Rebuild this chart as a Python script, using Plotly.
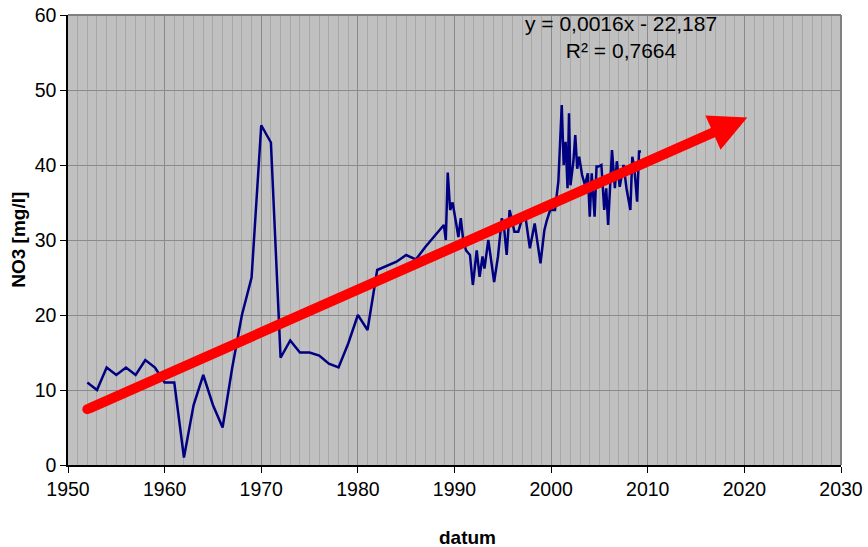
import plotly.graph_objects as go

# Measurement dates (decimal years) and NO3 concentrations [mg/l]
datum = [1952, 1953, 1954, 1955, 1956, 1957, 1958, 1959, 1960, 1961,
         1962, 1963, 1964, 1965, 1966, 1967, 1968, 1969, 1970, 1971,
         1972, 1973, 1974, 1975, 1976, 1977, 1978, 1979, 1980, 1981,
         1982, 1983, 1984, 1985, 1986, 1987, 1988, 1988.9, 1989.1, 1989.3,
         1989.55, 1989.8, 1990.2, 1990.4, 1990.65, 1990.9, 1991.2, 1991.6, 1991.9, 1992.3,
         1992.6, 1992.9, 1993.1, 1993.5, 1994.1, 1994.5, 1994.9, 1995.1, 1995.4, 1995.7,
         1995.9, 1996.2, 1996.6, 1997.1, 1997.3, 1997.8, 1998.3, 1998.9, 1999.3, 1999.55,
         1999.9, 2000.4, 2000.75, 2001.1, 2001.3, 2001.5, 2001.7, 2001.85, 2002.0, 2002.3,
         2002.5, 2002.7, 2002.9, 2003.2, 2003.5, 2003.8, 2004.0, 2004.2, 2004.5, 2004.7,
         2004.9, 2005.2, 2005.5, 2005.7, 2005.9, 2006.3, 2006.6, 2006.8, 2007.1, 2007.5,
         2007.8, 2008.2, 2008.4, 2008.6, 2008.9, 2009.1, 2009.3]
no3 = [11, 10, 13, 12, 13, 12, 14, 13, 11, 11,
       1, 8, 12, 8, 5, 13, 20, 25, 45.3, 43,
       14.3, 16.6, 15, 15, 14.6, 13.5, 13, 16.2, 20, 18,
       26, 26.5, 27.1, 28, 27.4, 29.1, 30.6, 32, 30, 39,
       34, 35, 32, 30.4, 32.9, 30, 28.6, 28, 24, 28.6,
       25.1, 27.8, 26.2, 30, 24.4, 27.8, 32.9, 32, 28, 34,
       32.9, 31.1, 31.1, 33.3, 33.5, 28.9, 32.2, 26.9, 31.3, 32.6,
       34, 34, 37.8, 48, 40, 43.1, 36.9, 46.9, 37.3, 40.4,
       44, 39.5, 41.1, 38.7, 37.3, 38.9, 33.1, 38.9, 33.1, 39.8,
       39.8, 40, 34, 36.9, 32, 42, 36.9, 40.5, 37.1, 40,
       36.9, 34, 41.1, 39.8, 35.1, 41.8, 41.8]

# Hand-drawn trend arrow (start and tip)
arrow_x = [1952, 2020.3]
arrow_y = [7.43, 46.35]

equation = "y = 0,0016x - 22,187<br>R² = 0,7664"
x_ticks = [1950, 1960, 1970, 1980, 1990, 2000, 2010, 2020, 2030]
y_ticks = [0, 10, 20, 30, 40, 50, 60]

FONT = "Liberation Sans, Arial, sans-serif"

fig = go.Figure()
fig.add_trace(go.Scatter(x=datum, y=no3, mode="lines",
                         line=dict(color="#000080", width=2.5),
                         showlegend=False, hoverinfo="x+y"))
# round cap at arrow start
fig.add_trace(go.Scatter(x=[arrow_x[0]], y=[arrow_y[0]], mode="markers",
                         marker=dict(color="#ff0000", size=10, line=dict(width=0)),
                         showlegend=False, hoverinfo="skip"))

fig.add_annotation(x=arrow_x[1], y=arrow_y[1], ax=arrow_x[0], ay=arrow_y[0],
                   xref="x", yref="y", axref="x", ayref="y",
                   showarrow=True, arrowhead=2, arrowsize=0.75, arrowwidth=10,
                   arrowcolor="#ff0000", standoff=0, text="")

fig.add_annotation(x=2007.25, y=57.1, xref="x", yref="y", text=equation,
                   showarrow=False, xanchor="center", yanchor="middle",
                   font=dict(family=FONT, size=21, color="#000000"))

# axis titles
fig.add_annotation(x=1991.35, y=-0.16, xref="x", yref="paper", text="<b>datum</b>",
                   showarrow=False, xanchor="center", yanchor="middle",
                   font=dict(family=FONT, size=19, color="#000"))
fig.add_annotation(x=-0.065, y=0.5, xref="paper", yref="paper", text="<b>NO3 [mg/l]</b>",
                   showarrow=False, textangle=-90, xanchor="center", yanchor="middle",
                   font=dict(family=FONT, size=19, color="#000"))

# gray frame on top/right
fig.add_shape(type="line", xref="paper", yref="paper", x0=0, x1=1, y0=1, y1=1,
              line=dict(color="#808080", width=2), layer="above")
fig.add_shape(type="line", xref="paper", yref="paper", x0=1, x1=1, y0=0, y1=1,
              line=dict(color="#808080", width=2), layer="above")

fig.update_layout(
    width=868, height=547,
    margin=dict(l=68, r=27, t=15, b=82, autoexpand=False),
    paper_bgcolor="white", plot_bgcolor="#c0c0c0",
    font=dict(family=FONT, size=19, color="#000"),
    showlegend=False,
    xaxis=dict(range=[1950, 2030], tickvals=x_ticks, ticks="outside", ticklen=6,
               tickcolor="#000", showline=True, linecolor="#000", linewidth=1.5,
               showgrid=True, gridcolor="#8a8a8a", gridwidth=1, zeroline=False,
               automargin=False,
               minor=dict(dtick=1, showgrid=True, gridcolor="#a8a8a8", gridwidth=1, ticks=""),
               tickfont=dict(family=FONT, size=19.5, color="#000")),
    yaxis=dict(range=[0, 60], tickvals=y_ticks, ticks="outside", ticklen=6,
               tickcolor="#000", showline=True, linecolor="#000", linewidth=1.5,
               showgrid=True, gridcolor="#8a8a8a", gridwidth=1, zeroline=False,
               automargin=False,
               tickfont=dict(family=FONT, size=19.5, color="#000")),
)

fig.write_html("out.html", config={"displayModeBar": False},
               post_script="document.body.style.margin='0';document.body.style.overflow='hidden';")
